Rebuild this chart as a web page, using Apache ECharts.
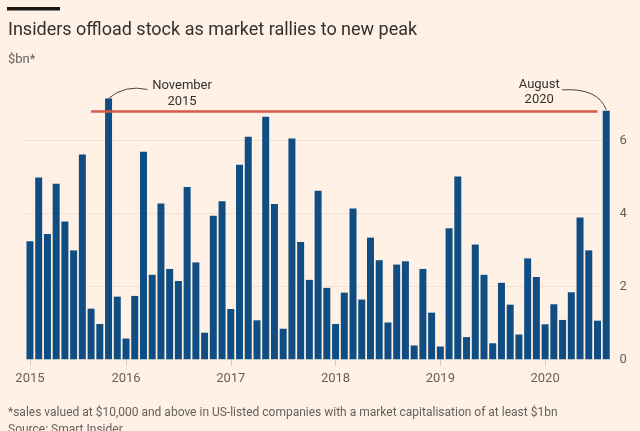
<!DOCTYPE html>
<html>
<head>
<meta charset="utf-8">
<script src="https://cdn.jsdelivr.net/npm/echarts@6/dist/echarts.min.js"></script>
<style>
html,body{margin:0;padding:0;background:#fff1e5;}
#chart{width:640px;height:431px;}
</style>
</head>
<body>
<div id="chart"></div>
<script>
// Monthly categories, Feb 2015 - Aug 2020
const months2015 = ['2015-02','2015-03','2015-04','2015-05','2015-06','2015-07','2015-08','2015-09','2015-10','2015-11','2015-12'];
const months2016 = ['2016-01','2016-02','2016-03','2016-04','2016-05','2016-06','2016-07','2016-08','2016-09','2016-10','2016-11','2016-12'];
const months2017 = ['2017-01','2017-02','2017-03','2017-04','2017-05','2017-06','2017-07','2017-08','2017-09','2017-10','2017-11','2017-12'];
const months2018 = ['2018-01','2018-02','2018-03','2018-04','2018-05','2018-06','2018-07','2018-08','2018-09','2018-10','2018-11','2018-12'];
const months2019 = ['2019-01','2019-02','2019-03','2019-04','2019-05','2019-06','2019-07','2019-08','2019-09','2019-10','2019-11','2019-12'];
const months2020 = ['2020-01','2020-02','2020-03','2020-04','2020-05','2020-06','2020-07','2020-08'];

// Insider sales, $bn
const sales2015 = [3.24, 4.99, 3.44, 4.82, 3.78, 2.99, 5.62, 1.39, 0.97, 7.16, 1.72];
const sales2016 = [0.57, 1.74, 5.70, 2.32, 4.28, 2.48, 2.15, 4.73, 2.66, 0.73, 3.94, 4.34];
const sales2017 = [1.38, 5.34, 6.11, 1.07, 6.66, 4.26, 0.84, 6.06, 3.22, 2.18, 4.63, 1.96];
const sales2018 = [0.97, 1.83, 4.14, 1.64, 3.34, 2.72, 1.01, 2.60, 2.69, 0.38, 2.48, 1.28];
const sales2019 = [0.35, 3.60, 5.02, 0.61, 3.15, 2.32, 0.44, 2.10, 1.50, 0.68, 2.77, 2.26];
const sales2020 = [0.96, 1.51, 1.08, 1.84, 3.89, 2.99, 1.06, 6.82];

const yearTickLabels = ['2015','2016','2017','2018','2019','2020'];
const yTicks = [0, 2, 4, 6];

const categories = [].concat(months2015, months2016, months2017, months2018, months2019, months2020);
const values = [].concat(sales2015, sales2016, sales2017, sales2018, sales2019, sales2020);

const annotations = [
  {month: '2015-11', text: 'November\n2015', side: 'right'},
  {month: '2020-08', text: 'August\n2020', side: 'left'}
];
const peakLineFrom = '2015-09';
const peakLineTo = '2020-07';
const peakValue = values[values.length - 1];

function isYearStart(idx) {
  const c = categories[idx];
  return idx === 0 || c.slice(5) === '01';
}

const chart = echarts.init(document.getElementById('chart'), null, {renderer: 'canvas'});

const option = {
  backgroundColor: '#fff1e5',
  animation: false,
  title: [
    {text: 'Insiders offload stock as market rallies to new peak', left: 8, top: 21, padding: 0,
     textStyle: {fontFamily: 'Roboto', fontSize: 18, fontWeight: 'normal', color: '#33302e'}},
    {text: '$bn*', left: 8, top: 53, padding: 0,
     textStyle: {fontFamily: 'Roboto', fontSize: 13, fontWeight: 'normal', color: '#66605c'}},
    {text: '*sales valued at $10,000 and above in US-listed companies with a market capitalisation of at least $1bn', left: 8, top: 407, padding: 0,
     textStyle: {fontFamily: 'Roboto', fontSize: 12, fontWeight: 'normal', color: '#66605c'}},
    {text: 'Source: Smart Insider', left: 8, top: 424, padding: 0,
     textStyle: {fontFamily: 'Roboto', fontSize: 12, fontWeight: 'normal', color: '#66605c'}}
  ],
  grid: {left: 25.6, right: 29.4, top: 97, bottom: 71.7, containLabel: false},
  xAxis: {
    type: 'category',
    data: categories,
    boundaryGap: true,
    axisLine: {show: false},
    axisTick: {show: true, alignWithLabel: true, length: 7, interval: (i) => isYearStart(i),
      lineStyle: {color: '#d9ccc0', width: 1}},
    axisLabel: {interval: (i) => isYearStart(i), margin: 13,
      formatter: (v) => v.slice(0, 4),
      fontFamily: 'Roboto', fontSize: 13, color: '#66605c'}
  },
  yAxis: {
    type: 'value',
    position: 'right',
    min: 0, max: 7.2, interval: 2,
    axisLine: {show: false},
    axisTick: {show: false},
    axisLabel: {margin: 9, showMaxLabel: false,
      formatter: (v) => yTicks.indexOf(v) >= 0 ? String(v) : '',
      fontFamily: 'Roboto', fontSize: 13, color: '#66605c'},
    splitLine: {show: true, showMaxLine: false, showMinLine: false,
      lineStyle: {color: '#f2e1d3', width: 1}}
  },
  series: [{
    type: 'bar',
    data: values,
    barCategoryGap: '20%',
    itemStyle: {color: '#0f4d83'},
    markLine: {
      silent: true,
      symbol: ['none', 'none'],
      label: {show: false},
      lineStyle: {color: '#d65a4c', width: 2.5, type: 'solid'},
      data: [[{coord: [peakLineFrom, peakValue]}, {coord: [peakLineTo, peakValue]}]]
    }
  }]
};
chart.setOption(option);

// Annotations placed from the axes' own scales
const graphics = [
  {type: 'rect', shape: {x: 7, y: 7, width: 53, height: 3.5}, style: {fill: '#1a1817'}}
];
annotations.forEach(a => {
  const idx = categories.indexOf(a.month);
  const p = chart.convertToPixel({seriesIndex: 0}, [idx, values[idx]]);
  const bx = p[0], by = p[1];
  if (a.side === 'right') {
    graphics.push({type: 'text', style: {text: a.text, x: bx + 73.5, y: by - 4.5,
      align: 'center', verticalAlign: 'middle', font: '13px Roboto', lineHeight: 16, fill: '#33302e'}});
    graphics.push({type: 'bezierCurve', shape: {x1: bx + 39, y1: by - 9, x2: bx, y2: by,
      cpx1: bx + 16, cpy1: by - 14}, style: {stroke: '#4a4541', lineWidth: 1, fill: null}});
  } else {
    graphics.push({type: 'text', style: {text: a.text, x: bx - 67, y: by - 18.5,
      align: 'center', verticalAlign: 'middle', font: '13px Roboto', lineHeight: 15, fill: '#33302e'}});
    graphics.push({type: 'bezierCurve', shape: {x1: bx - 44, y1: by - 21, x2: bx, y2: by - 1,
      cpx1: bx - 8, cpy1: by - 23}, style: {stroke: '#4a4541', lineWidth: 1, fill: null}});
  }
});
chart.setOption({graphic: graphics});
</script>
</body>
</html>
